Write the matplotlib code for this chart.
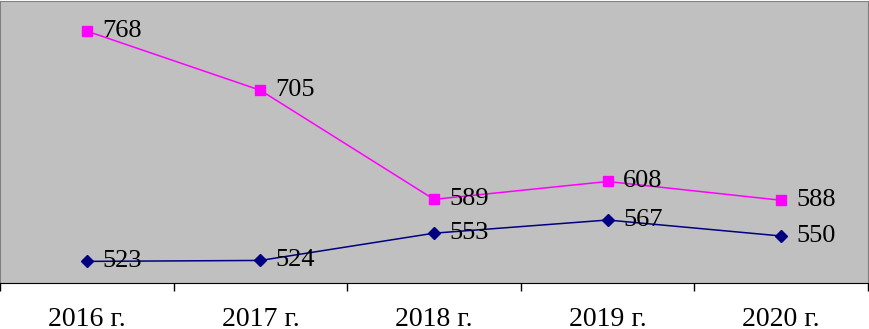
import numpy as np
import matplotlib.pyplot as plt

# === Data ===
years = ['2016 г.', '2017 г.', '2018 г.', '2019 г.', '2020 г.']
upper = [768, 705, 589, 608, 588]  # magenta series
lower = [523, 524, 553, 567, 550]  # navy series

plt.rcParams['font.family'] = ['Liberation Serif', 'DejaVu Serif']

fig = plt.figure(figsize=(8.69, 3.29), dpi=100)
ax = fig.add_axes([0.0, 46 / 329, 868 / 869, 282 / 329])
ax.set_facecolor('#C0C0C0')

x = np.arange(len(years))
ax.plot(x, upper, color='#FF00FF', marker='s', markersize=6.5, linewidth=1.1)
ax.plot(x, lower, color='#000080', marker='D', markersize=6, linewidth=1.1)

for xi, v in zip(x, upper):
    ax.annotate(str(v), (xi, v), xytext=(11, 0), textcoords='offset points',
                va='center', ha='left', fontsize=19)
for xi, v in zip(x, lower):
    ax.annotate(str(v), (xi, v), xytext=(11, 0), textcoords='offset points',
                va='center', ha='left', fontsize=19)

ax.set_xlim(-0.5, len(years) - 0.5)
ax.set_ylim(500, 800)
ax.set_yticks([])

# category labels centred, ticks on the boundaries
ax.set_xticks(x)
ax.set_xticklabels(years, fontsize=20)
ax.tick_params(axis='x', which='major', length=0, pad=17)
ax.set_xticks(np.arange(-0.5, len(years)), minor=True)
ax.tick_params(axis='x', which='minor', length=5.5, width=1, color='black')

for side in ['left', 'top', 'right']:
    ax.spines[side].set_color('#808080')
ax.spines['bottom'].set_color('black')

fig.savefig('out.png', dpi=100)
